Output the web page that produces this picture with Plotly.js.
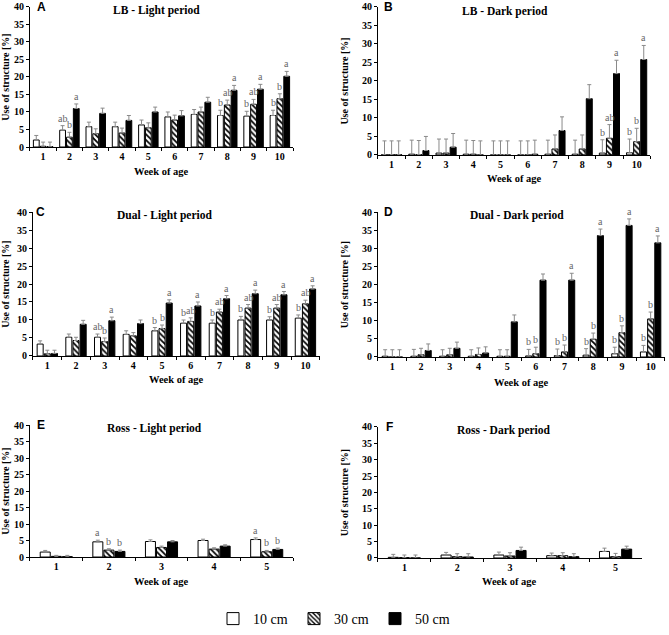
<!DOCTYPE html>
<html>
<head>
<meta charset="utf-8">
<script src="https://cdn.plot.ly/plotly-3.0.1.min.js"></script>
<style>
  body { margin: 0; background: #fff; }
  #plot { width: 669px; height: 635px; }
</style>
</head>
<body>
<div id="plot"></div>
<script>
const weeks10 = ["1", "2", "3", "4", "5", "6", "7", "8", "9", "10"];
const weeks5 = ["1", "2", "3", "4", "5"];
const seriesNames = ["10 cm", "30 cm", "50 cm"];

// A - LB light
const lbLight10 = [2.0, 4.8, 5.8, 5.8, 6.3, 8.6, 9.3, 9.0, 8.8, 9.0];
const lbLight10Err = [1.3, 1.3, 1.3, 1.3, 1.4, 1.4, 1.4, 1.5, 1.4, 1.5];
const lbLight30 = [0.2, 2.8, 3.8, 4.0, 5.5, 7.7, 10.0, 12.0, 12.2, 13.8];
const lbLight30Err = [1.2, 1.4, 1.4, 1.4, 1.4, 1.4, 1.4, 1.4, 1.4, 1.4];
const lbLight50 = [0.1, 11.0, 9.6, 7.6, 10.0, 8.9, 12.8, 16.2, 16.5, 20.2];
const lbLight50Err = [1.3, 1.3, 1.5, 1.4, 1.4, 1.5, 1.4, 1.4, 1.4, 1.4];
const lbLight10Sig = ["", "ab", "", "", "", "", "", "b", "b", "b"];
const lbLight30Sig = ["", "b", "", "", "", "", "", "ab", "ab", "b"];
const lbLight50Sig = ["", "a", "", "", "", "", "", "a", "a", "a"];

// B - LB dark
const lbDark10 = [0.1, 0.2, 0.5, 0.2, 0, 0, 0.2, 0.2, 0.5, 0.6];
const lbDark10Err = [3.7, 3.8, 3.8, 3.8, 3.8, 3.8, 3.8, 3.8, 3.6, 3.7];
const lbDark30 = [0.1, 0.1, 0.5, 0.2, 0, 0, 1.6, 1.6, 4.5, 3.6];
const lbDark30Err = [3.7, 3.8, 3.8, 3.7, 3.8, 3.8, 3.8, 3.8, 3.7, 3.6];
const lbDark50 = [0.1, 1.2, 2.1, 0, 0, 0.2, 6.6, 15.2, 22.0, 25.8];
const lbDark50Err = [3.7, 3.8, 3.7, 3.8, 3.8, 3.8, 3.7, 3.8, 3.6, 3.8];
const lbDark10Sig = ["", "", "", "", "", "", "", "", "b", "b"];
const lbDark30Sig = ["", "", "", "", "", "", "", "", "ab", "b"];
const lbDark50Sig = ["", "", "", "", "", "", "", "", "a", "a"];

// C - Dual light
const dualLight10 = [3.3, 5.2, 5.2, 6.0, 7.0, 9.1, 9.1, 10.0, 10.0, 10.5];
const dualLight10Err = [0.9, 0.9, 0.9, 1.0, 0.9, 0.9, 0.9, 1.0, 0.9, 0.9];
const dualLight30 = [0.6, 4.3, 4.0, 5.6, 7.6, 9.6, 12.2, 13.3, 13.3, 14.5];
const dualLight30Err = [1.0, 0.9, 1.0, 0.9, 1.0, 1.0, 0.8, 1.0, 1.0, 1.0];
const dualLight50 = [0.7, 8.8, 9.8, 9.0, 14.7, 13.9, 15.9, 17.3, 17.0, 18.6];
const dualLight50Err = [0.9, 1.1, 1.0, 1.0, 0.9, 1.1, 0.9, 1.0, 0.9, 0.9];
const dualLight10Sig = ["", "", "ab", "", "b", "b", "b", "b", "b", "b"];
const dualLight30Sig = ["", "", "b", "", "b", "ab", "ab", "ab", "ab", "ab"];
const dualLight50Sig = ["", "", "a", "", "a", "a", "a", "a", "a", "a"];

// D - Dual dark
const dualDark10 = [0.2, 0.2, 0.2, 0.2, 0.2, 0.3, 0.4, 0.5, 0.9, 1.4];
const dualDark10Err = [1.8, 1.9, 1.8, 1.8, 1.8, 1.8, 1.8, 1.8, 1.8, 1.8];
const dualDark30 = [0, 0.6, 0.6, 0.7, 0.2, 0.9, 1.4, 4.9, 6.7, 10.5];
const dualDark30Err = [2.0, 1.8, 1.8, 1.8, 1.8, 1.8, 1.9, 1.7, 1.9, 1.9];
const dualDark50 = [0, 1.8, 2.4, 1.1, 9.7, 21.2, 21.2, 33.5, 36.3, 31.5];
const dualDark50Err = [2.0, 1.8, 1.7, 1.7, 1.9, 1.7, 1.9, 1.8, 1.8, 1.9];
const dualDark10Sig = ["", "", "", "", "", "b", "b", "b", "b", "b"];
const dualDark30Sig = ["", "", "", "", "", "b", "b", "b", "b", "b"];
const dualDark50Sig = ["", "", "", "", "", "", "a", "a", "a", "a"];

// E - Ross light
const rossLight10 = [1.5, 4.6, 4.7, 5.0, 5.3];
const rossLight10Err = [0.5, 0.5, 0.5, 0.4, 0.5];
const rossLight30 = [0.2, 2.1, 2.9, 2.4, 1.6];
const rossLight30Err = [0.3, 0.4, 0.4, 0.4, 0.4];
const rossLight50 = [0.1, 1.7, 4.6, 3.3, 2.3];
const rossLight50Err = [0.4, 0.4, 0.4, 0.4, 0.4];
const rossLight10Sig = ["", "a", "", "", "a"];
const rossLight30Sig = ["", "b", "", "", "b"];
const rossLight50Sig = ["", "b", "", "", "b"];

// F - Ross dark
const rossDark10 = [0.2, 0.9, 0.9, 0.7, 2.0];
const rossDark10Err = [0.9, 0.8, 0.9, 0.8, 1.0];
const rossDark30 = [0.1, 0.4, 0.6, 0.7, 0.4];
const rossDark30Err = [0.8, 0.9, 1.0, 0.9, 1.0];
const rossDark50 = [0, 0.3, 2.3, 0.4, 2.7];
const rossDark50Err = [0.9, 1.0, 1.0, 0.9, 0.9];

const serif = "Liberation Serif, Times New Roman, serif";
const sans = "Liberation Sans, Arial, sans-serif";

// xd/yd: axis domains; h: plot height in px (for placing the x title)
const panels = [
    { letter: "A", title: "LB - Light period", cats: weeks10,
      vals: [lbLight10, lbLight30, lbLight50], errs: [lbLight10Err, lbLight30Err, lbLight50Err],
      sigs: [lbLight10Sig, lbLight30Sig, lbLight50Sig],
      xd: [0.0448, 0.438], yd: [0.7685, 0.989], h: 140, xt: 24, lx: 0.042, tx: 0.48, ty: 0.975, stride: 0.26, w: 0.22 },
    { letter: "B", title: "LB - Dark period", cats: weeks10,
      vals: [lbDark10, lbDark30, lbDark50], errs: [lbDark10Err, lbDark30Err, lbDark50Err],
      sigs: [lbDark10Sig, lbDark30Sig, lbDark50Sig],
      xd: [0.565, 0.972], yd: [0.756, 0.989], h: 148, xt: 24, lx: 0.037, tx: 0.467, ty: 0.97, stride: 0.26, w: 0.22 },
    { letter: "C", title: "Dual - Light period", cats: weeks10,
      vals: [dualLight10, dualLight30, dualLight50], errs: [dualLight10Err, dualLight30Err, dualLight50Err],
      sigs: [dualLight10Sig, dualLight30Sig, dualLight50Sig],
      xd: [0.0493, 0.478], yd: [0.4394, 0.6661], h: 144, xt: 24, lx: 0.025, tx: 0.46, ty: 0.975, stride: 0.25, w: 0.21 },
    { letter: "D", title: "Dual - Dark period", cats: weeks10,
      vals: [dualDark10, dualDark30, dualDark50], errs: [dualDark10Err, dualDark30Err, dualDark50Err],
      sigs: [dualDark10Sig, dualDark30Sig, dualDark50Sig],
      xd: [0.565, 0.994], yd: [0.4378, 0.6661], h: 145, xt: 26, lx: 0.035, tx: 0.484, ty: 0.975, stride: 0.25, w: 0.21 },
    { letter: "E", title: "Ross - Light period", cats: weeks5,
      vals: [rossLight10, rossLight30, rossLight50], errs: [rossLight10Err, rossLight30Err, rossLight50Err],
      sigs: [rossLight10Sig, rossLight30Sig, rossLight50Sig],
      xd: [0.0448, 0.438], yd: [0.1228, 0.3307], h: 132, xt: 24, lx: 0.042, tx: 0.475, ty: 0.97, stride: 0.21, w: 0.19 },
    { letter: "F", title: "Ross - Dark period", cats: weeks5,
      vals: [rossDark10, rossDark30, rossDark50], errs: [rossDark10Err, rossDark30Err, rossDark50Err],
      sigs: null,
      xd: [0.565, 0.9596], yd: [0.1213, 0.3276], h: 131, xt: 24, lx: 0.045, tx: 0.477, ty: 0.97, stride: 0.21, w: 0.19 }
];

const fills = ["white", "white", "black"];

let data = [];
let annotations = [];
let layout = {
    width: 669,
    height: 635,
    margin: { l: 0, r: 0, t: 0, b: 0 },
    paper_bgcolor: "white",
    plot_bgcolor: "white",
    barmode: "overlay",
    showlegend: true,
    legend: {
        orientation: "h",
        x: 0.5, xanchor: "center",
        y: 0, yanchor: "bottom",
        font: { family: serif, size: 14, color: "black" },
        entrywidth: 36,
        itemwidth: 30
    },
    annotations: annotations
};

panels.forEach((p, n) => {
    const s = n === 0 ? "" : String(n + 1);
    const xa = "x" + s, ya = "y" + s;

    p.vals.forEach((vals, j) => {
        const off = -1.5 * p.stride + j * p.stride + (p.stride - p.w) / 2;
        const trace = {
            type: "bar",
            name: seriesNames[j],
            legendgroup: seriesNames[j],
            showlegend: n === 0,
            x: p.cats,
            y: vals,
            xaxis: xa,
            yaxis: ya,
            offset: off,
            width: p.w,
            marker: {
                color: fills[j],
                line: { color: "black", width: 1 }
            },
            error_y: {
                type: "data",
                symmetric: false,
                array: p.errs[j],
                arrayminus: vals.map(() => 0),
                color: "#8a8a8a",
                thickness: 1,
                width: 2
            },
            hoverinfo: "skip"
        };
        if (j === 1) {
            trace.marker.pattern = { shape: "\\", fgcolor: "black", bgcolor: "white", size: 4, solidity: 0.45 };
        }
        data.push(trace);

        if (p.sigs) {
            p.sigs[j].forEach((t, i) => {
                if (!t) return;
                annotations.push({
                    xref: xa, yref: ya,
                    x: i + off + p.w / 2,
                    y: vals[i] + p.errs[j][i],
                    yanchor: "bottom",
                    text: t,
                    showarrow: false,
                    font: { family: serif, size: 10, color: "#666666" }
                });
            });
        }
    });

    layout["xaxis" + s] = {
        domain: p.xd,
        anchor: ya,
        type: "category",
        range: [-0.5, p.cats.length - 0.5],
        showline: true,
        linecolor: "black",
        linewidth: 1,
        ticks: "outside",
        tickson: "boundaries",
        ticklen: 3,
        tickcolor: "black",
        showgrid: false,
        tickfont: { family: serif, size: 10, color: "black", weight: "bold" }
    };
    layout["yaxis" + s] = {
        domain: p.yd,
        anchor: xa,
        range: [0, 40],
        dtick: 5,
        showline: true,
        linecolor: "black",
        linewidth: 1,
        ticks: "outside",
        ticklen: 3,
        tickcolor: "black",
        showgrid: false,
        zeroline: false,
        tickfont: { family: serif, size: 10, color: "black", weight: "bold" },
        title: { text: "Use of structure [%]", font: { family: serif, size: 10, color: "black", weight: "bold" } }
    };

    // x title, panel letter and panel title
    annotations.push({
        xref: xa + " domain", yref: ya + " domain",
        x: 0.5, y: -p.xt / p.h, xanchor: "center", yanchor: "middle",
        text: "Week of age", showarrow: false,
        font: { family: serif, size: 10.5, color: "black", weight: "bold" }
    });
    annotations.push({
        xref: xa + " domain", yref: ya + " domain",
        x: p.lx, y: 1.0, xanchor: "center", yanchor: "middle",
        text: p.letter, showarrow: false,
        font: { family: sans, size: 12, color: "black", weight: "bold" }
    });
    annotations.push({
        xref: xa + " domain", yref: ya + " domain",
        x: p.tx, y: p.ty, xanchor: "center", yanchor: "middle",
        text: p.title, showarrow: false,
        font: { family: serif, size: 11.5, color: "black", weight: "bold" }
    });
});

let config = { staticPlot: true };

Plotly.newPlot("plot", data, layout, config);
</script>
</body>
</html>
